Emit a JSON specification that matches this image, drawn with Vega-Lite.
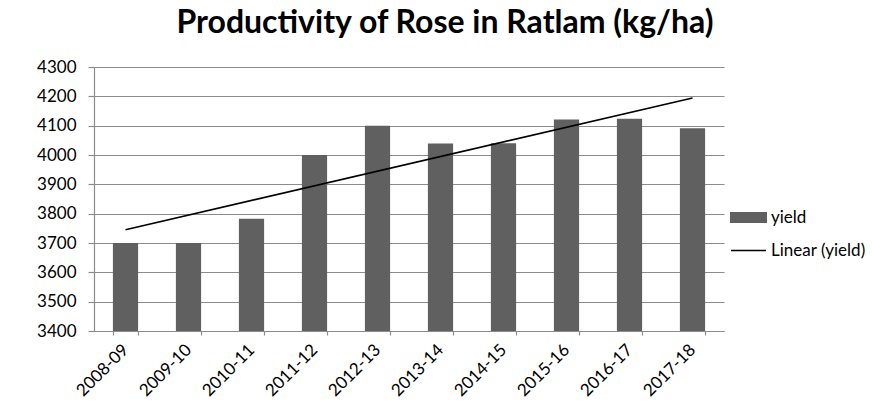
{
  "$schema": "https://vega.github.io/schema/vega-lite/v6.json",
  "width": 630,
  "height": 264,
  "autosize": {"type": "none"},
  "padding": {"left": 94, "top": 67, "right": 148, "bottom": 81},
  "background": "white",
  "title": {
    "text": "Productivity of Rose in Ratlam (kg/ha)",
    "font": "Lato",
    "fontSize": 32,
    "fontWeight": "bold",
    "color": "black",
    "anchor": "middle",
    "dx": 36,
    "offset": 18
  },
  "data": {
    "values": [
      {"season": "2008-09", "n": 1, "yield": 3700},
      {"season": "2009-10", "n": 2, "yield": 3700},
      {"season": "2010-11", "n": 3, "yield": 3783},
      {"season": "2011-12", "n": 4, "yield": 4000},
      {"season": "2012-13", "n": 5, "yield": 4100},
      {"season": "2013-14", "n": 6, "yield": 4039},
      {"season": "2014-15", "n": 7, "yield": 4040},
      {"season": "2015-16", "n": 8, "yield": 4121},
      {"season": "2016-17", "n": 9, "yield": 4124},
      {"season": "2017-18", "n": 10, "yield": 4091}
    ]
  },
  "encoding": {
    "y": {
      "field": "yield",
      "type": "quantitative",
      "scale": {"domain": [3400, 4300], "zero": false, "nice": false},
      "axis": {
        "title": null,
        "values": [3400, 3500, 3600, 3700, 3800, 3900, 4000, 4100, 4200, 4300],
        "format": "d",
        "labelOverlap": false,
        "tickSize": 6,
        "labelPadding": 12,
        "grid": true
      }
    }
  },
  "layer": [
    {
      "mark": {"type": "bar", "color": "#606060", "clip": true},
      "encoding": {
        "x": {
          "field": "season",
          "type": "ordinal",
          "sort": null,
          "scale": {"type": "band", "paddingInner": 0.6, "paddingOuter": 0.3},
          "axis": {
            "title": null,
            "labelAngle": -45,
            "labelAlign": "right",
            "labelBaseline": "middle",
            "labelPadding": 12,
            "labelOverlap": false,
            "tickBand": "extent",
            "tickSize": 4,
            "grid": false
          }
        },
        "color": {
          "datum": "yield",
          "scale": {"range": ["#606060"]},
          "legend": {
            "title": null,
            "orient": "none",
            "legendX": 636,
            "legendY": 132,
            "symbolType": "M-1,-0.3H1V0.3H-1Z",
            "symbolSize": 1369,
            "symbolStrokeWidth": 0,
            "labelOffset": 4
          }
        }
      }
    },
    {
      "transform": [
        {"regression": "yield", "on": "n", "method": "linear"}
      ],
      "mark": {"type": "line", "color": "black", "strokeWidth": 1.6},
      "encoding": {
        "x": {
          "field": "n",
          "type": "quantitative",
          "scale": {"domain": [0.5, 10.5], "nice": false, "zero": false},
          "axis": null
        },
        "color": {
          "datum": "Linear (yield)",
          "scale": {"range": ["black"]},
          "legend": {
            "title": null,
            "orient": "none",
            "legendX": 636,
            "legendY": 165,
            "symbolType": "stroke",
            "symbolSize": 1225,
            "symbolStrokeWidth": 1.6,
            "labelOffset": 4
          }
        }
      }
    }
  ],
  "resolve": {"scale": {"x": "independent", "color": "independent"}, "axis": {"x": "independent"}},
  "config": {
    "view": {"stroke": null},
    "axis": {
      "labelFont": "Lato",
      "labelFontSize": 17,
      "labelColor": "black",
      "domainColor": "#8c8c8c",
      "tickColor": "#8c8c8c",
      "gridColor": "#8c8c8c",
      "gridWidth": 1.2,
      "domainWidth": 1.2,
      "tickWidth": 1.2
    },
    "legend": {
      "labelFont": "Lato",
      "labelFontSize": 17,
      "labelColor": "black",
      "padding": 0
    }
  }
}
